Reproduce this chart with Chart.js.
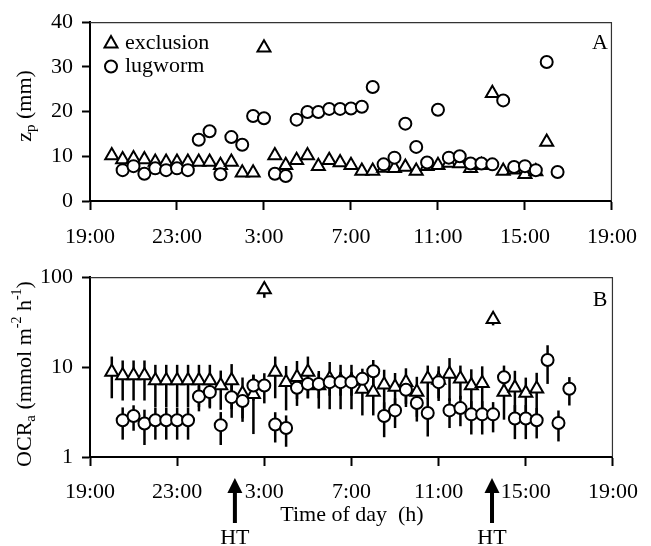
<!DOCTYPE html>
<html>
<head>
<meta charset="utf-8">
<script src="https://cdn.jsdelivr.net/npm/chart.js@4.4.1/dist/chart.umd.min.js"></script>
<style>
  html, body { margin: 0; padding: 0; background: #fff; }
  #wrap { position: relative; width: 651px; height: 546px; }
  canvas { position: absolute; left: 0; }
</style>
</head>
<body>
<div id="wrap">
  <canvas id="chartA" width="651" height="255" style="top:0"></canvas>
  <canvas id="chartB" width="651" height="291" style="top:255px"></canvas>
</div>
<script>
// hours after 19:00
const xTickHours = [0, 4, 8, 12, 16, 20, 24];
const xTickLabels = ['19:00', '23:00', '3:00', '7:00', '11:00', '15:00', '19:00'];
const zpTicks = [0, 10, 20, 30, 40];
const ocrTicks = [1, 10, 100];
const htTimes = [6.65, 18.45];

// Panel A: z_p (mm)
const zpExclTime = [1.0, 1.5, 2.0, 2.5, 3.0, 3.5, 4.0, 4.5, 5.0, 5.5, 6.0, 6.5, 7.0, 7.5, 8.0, 8.5, 9.0, 9.5, 10.0, 10.5,
  11.0, 11.5, 12.0, 12.5, 13.0, 13.5, 14.0, 14.5, 15.0, 15.5, 16.0, 16.5, 17.0, 17.5, 18.0, 18.5, 19.0, 19.5, 20.0, 20.5, 21.0];
const zpExcl = [10.2, 9.3, 9.5, 9.3, 8.7, 8.7, 8.7, 8.7, 8.7, 8.7, 8.0, 8.7, 6.3, 6.3, 34.3, 10.2, 8.0, 9.1, 10.2, 7.8,
  9.1, 8.6, 8.0, 6.7, 6.7, 7.4, 7.3, 7.6, 6.7, 7.8, 8.0, 8.5, 8.4, 7.3, 8.0, 24.1, 6.7, 7.0, 6.0, 6.6, 13.2];
const zpLugTime = [1.5, 2.0, 2.5, 3.0, 3.5, 4.0, 4.5, 5.0, 5.5, 6.0, 6.5, 7.0, 7.5, 8.0, 8.5, 9.0, 9.5, 10.0, 10.5, 11.0,
  11.5, 12.0, 12.5, 13.0, 13.5, 14.0, 14.5, 15.0, 15.5, 16.0, 16.5, 17.0, 17.5, 18.0, 18.5, 19.0, 19.5, 20.0, 20.5, 21.0, 21.5];
const zpLug = [6.9, 7.8, 6.1, 7.3, 6.9, 7.3, 6.9, 13.7, 15.6, 6.0, 14.3, 12.6, 19.0, 18.5, 6.1, 5.6, 18.2, 19.9, 19.9, 20.6,
  20.6, 20.7, 21.1, 25.5, 8.2, 9.7, 17.3, 12.1, 8.6, 20.4, 9.7, 10.0, 8.4, 8.4, 8.2, 22.5, 7.6, 7.8, 6.9, 31.1, 6.5];

// Panel B: OCR_a (mmol m-2 h-1), mean and SD
const ocrExclTime = [1.0, 1.5, 2.0, 2.5, 3.0, 3.5, 4.0, 4.5, 5.0, 5.5, 6.0, 6.5, 7.0, 7.5, 8.0, 8.5, 9.0, 9.5, 10.0, 10.5,
  11.0, 11.5, 12.0, 12.5, 13.0, 13.5, 14.0, 14.5, 15.0, 15.5, 16.0, 16.5, 17.0, 17.5, 18.0, 18.5, 19.0, 19.5, 20.0, 20.5];
const ocrExcl = [8.8, 8.05, 8.05, 8.05, 7.1, 7.1, 7.1, 7.1, 7.1, 7.1, 6.25, 7.1, 5.06, 5.0, 73, 8.8, 6.8, 7.7, 8.8, 6.25,
  7.4, 7.0, 7.0, 5.7, 5.3, 6.35, 6.0, 6.8, 5.3, 7.4, 7.2, 8.4, 7.4, 6.25, 6.6, 34.1, 5.3, 5.9, 5.14, 5.74];
const ocrExclSd = [4.3, 3.8, 3.8, 3.8, 3.5, 3.5, 3.5, 3.5, 3.5, 3.5, 2.9, 3.7, 2.6, 3.2, 14, 4.3, 3.5, 4.0, 4.3, 2.8,
  4.0, 3.6, 3.6, 2.8, 2.4, 3.0, 2.6, 2.9, 2.5, 3.0, 3.0, 4.2, 3.0, 3.2, 3.6, 5.0, 2.7, 3.2, 2.5, 2.9];
const ocrLugTime = [1.5, 2.0, 2.5, 3.0, 3.5, 4.0, 4.5, 5.0, 5.5, 6.0, 6.5, 7.0, 7.5, 8.0, 8.5, 9.0, 9.5, 10.0, 10.5, 11.0,
  11.5, 12.0, 12.5, 13.0, 13.5, 14.0, 14.5, 15.0, 15.5, 16.0, 16.5, 17.0, 17.5, 18.0, 18.5, 19.0, 19.5, 20.0, 20.5, 21.0, 21.5, 22.0];
const ocrLug = [2.56, 2.86, 2.36, 2.56, 2.56, 2.56, 2.56, 4.72, 5.27, 2.26, 4.63, 4.19, 6.25, 6.25, 2.3, 2.1, 5.9, 6.5, 6.5, 6.8,
  6.8, 6.8, 7.4, 9.0, 2.86, 3.3, 5.6, 3.98, 3.09, 6.8, 3.3, 3.5, 2.98, 2.98, 2.98, 7.7, 2.68, 2.68, 2.56, 12.0, 2.39, 5.74];
const ocrLugSd = [1.0, 0.9, 1.0, 1.0, 1.0, 1.0, 1.0, 1.5, 1.8, 0.9, 1.9, 1.5, 2.0, 2.3, 0.85, 0.8, 1.5, 2.0, 2.0, 2.0,
  2.0, 2.0, 2.2, 3.0, 1.2, 1.2, 2.0, 1.5, 1.4, 2.3, 1.2, 1.3, 1.2, 1.2, 1.1, 2.7, 1.1, 1.1, 0.95, 5.5, 0.9, 2.0];

const FONT = '"Liberation Serif", "Times New Roman", serif';
const tickFont = { family: FONT, size: 22 };

const toPoints = (xs, ys) => xs.map((x, i) => ({ x: x, y: ys[i] }));

// error bars go behind the markers
const errorBars = {
  id: 'errorBars',
  beforeDatasetsDraw(chart) {
    const ctx = chart.ctx;
    const yScale = chart.scales.y;
    ctx.save();
    ctx.strokeStyle = '#000';
    ctx.lineWidth = 2.5;
    chart.data.datasets.forEach((ds, i) => {
      if (!ds.sd) return;
      chart.getDatasetMeta(i).data.forEach((pt, j) => {
        const v = ds.data[j].y, s = ds.sd[j];
        ctx.beginPath();
        ctx.moveTo(pt.x, yScale.getPixelForValue(v + s));
        ctx.lineTo(pt.x, yScale.getPixelForValue(Math.max(v - s, 1)));
        ctx.stroke();
      });
    });
    ctx.restore();
  }
};

// draw a run of text pieces [text, size, dy] rotated -90deg around (cx, cy)
function drawRotatedTitle(ctx, cx, cy, parts) {
  ctx.save();
  ctx.translate(cx, cy);
  ctx.rotate(-Math.PI / 2);
  ctx.fillStyle = '#000';
  ctx.textAlign = 'left';
  ctx.textBaseline = 'middle';
  let total = 0;
  parts.forEach(p => { ctx.font = p[1] + 'px ' + FONT; total += ctx.measureText(p[0]).width; });
  let x = -total / 2;
  parts.forEach(p => {
    ctx.font = p[1] + 'px ' + FONT;
    ctx.fillText(p[0], x, p[2]);
    x += ctx.measureText(p[0]).width;
  });
  ctx.restore();
}

const panelDecor = {
  id: 'panelDecor',
  afterDraw(chart, args, opts) {
    const ctx = chart.ctx;
    const a = chart.chartArea;
    ctx.save();
    // thin top/right frame
    ctx.strokeStyle = '#333';
    ctx.lineWidth = 1.2;
    ctx.beginPath();
    ctx.moveTo(a.left, a.top + 0.5);
    ctx.lineTo(a.right - 0.5, a.top + 0.5);
    ctx.lineTo(a.right - 0.5, a.bottom);
    ctx.stroke();

    ctx.fillStyle = '#000';
    ctx.font = '22px ' + FONT;
    ctx.textAlign = 'center';
    ctx.textBaseline = 'middle';
    ctx.fillText(opts.letter, 600, opts.letterY);

    drawRotatedTitle(ctx, 25, opts.titleY, opts.title);

    ctx.font = '22px ' + FONT;
    ctx.textBaseline = 'middle';
    if (opts.legend) {
      ctx.lineWidth = 2;
      ctx.strokeStyle = '#000';
      ctx.fillStyle = '#fff';
      ctx.beginPath();
      ctx.moveTo(111, 36); ctx.lineTo(117.5, 47.5); ctx.lineTo(104.5, 47.5); ctx.closePath();
      ctx.fill(); ctx.stroke();
      ctx.beginPath();
      ctx.arc(111, 66.5, 6, 0, Math.PI * 2);
      ctx.fill(); ctx.stroke();
      ctx.fillStyle = '#000';
      ctx.textAlign = 'left';
      ctx.fillText('exclusion', 125, 43);
      ctx.fillText('lugworm', 125, 66);
    }

    if (opts.arrows) {
      const xs = chart.scales.x;
      ctx.fillStyle = '#000';
      ctx.textAlign = 'center';
      htTimes.forEach(t => {
        const px = xs.getPixelForValue(t);
        ctx.beginPath();
        ctx.moveTo(px, 223); ctx.lineTo(px + 7.5, 238); ctx.lineTo(px - 7.5, 238); ctx.closePath();
        ctx.fill();
        ctx.fillRect(px - 2, 236, 4, 32);
        ctx.fillText('HT', px, 283);
      });
      ctx.fillText('Time of day  (h)', 352, 260);
    }
    ctx.restore();
  }
};

function xScale(labelPad, height) {
  return {
    type: 'linear', min: 0, max: 24,
    afterBuildTicks: s => { s.ticks = xTickHours.map(v => ({ value: v })); },
    ticks: { font: tickFont, color: '#000', padding: labelPad, maxRotation: 0, autoSkip: false,
      callback: (v, i) => xTickLabels[i] },
    grid: { display: true, drawOnChartArea: false, drawTicks: true, tickLength: 9, tickWidth: 2, color: '#000' },
    border: { display: true, width: 2, color: '#000' },
    afterFit: s => { s.height = height; }
  };
}

function yGrid() {
  return { display: true, drawOnChartArea: false, drawTicks: true, tickLength: 8, tickWidth: 2, color: '#000' };
}

const markerExcl = { pointStyle: 'triangle', pointRadius: 7.5, pointBorderWidth: 2,
  pointBackgroundColor: '#fff', pointBorderColor: '#000', showLine: false };
const markerLug = { pointStyle: 'circle', pointRadius: 6, pointBorderWidth: 2,
  pointBackgroundColor: '#fff', pointBorderColor: '#000', showLine: false };

new Chart(document.getElementById('chartA'), {
  type: 'scatter',
  data: {
    datasets: [
      Object.assign({ label: 'lugworm', data: toPoints(zpLugTime, zpLug) }, markerLug),
      Object.assign({ label: 'exclusion', data: toPoints(zpExclTime, zpExcl) }, markerExcl)
    ]
  },
  options: {
    responsive: false, animation: false, events: [],
    layout: { padding: { top: 20, right: 30, left: 0, bottom: 0 } },
    plugins: {
      legend: { display: false }, tooltip: { enabled: false },
      panelDecor: { letter: 'A', letterY: 43, titleY: 106,
        title: [['z', 22, 0], ['p', 15, 6], [' (mm)', 22, 0]], legend: true }
    },
    scales: {
      x: xScale(14, 54),
      y: {
        type: 'linear', min: 0, max: 40,
        afterBuildTicks: s => { s.ticks = zpTicks.map(v => ({ value: v })); },
        ticks: { font: tickFont, color: '#000', padding: 9 },
        grid: yGrid(),
        border: { display: true, width: 2, color: '#000' },
        afterFit: s => { s.width = 90; }
      }
    }
  },
  plugins: [panelDecor]
});

new Chart(document.getElementById('chartB'), {
  type: 'scatter',
  data: {
    datasets: [
      Object.assign({ label: 'lugworm', data: toPoints(ocrLugTime, ocrLug), sd: ocrLugSd }, markerLug),
      Object.assign({ label: 'exclusion', data: toPoints(ocrExclTime, ocrExcl), sd: ocrExclSd }, markerExcl)
    ]
  },
  options: {
    responsive: false, animation: false, events: [],
    layout: { padding: { top: 21, right: 30, left: 0, bottom: 0 } },
    plugins: {
      legend: { display: false }, tooltip: { enabled: false },
      panelDecor: { letter: 'B', letterY: 45, titleY: 119,
        title: [['OCR', 22, 0], ['a', 15, 6], [' (mmol m', 22, 0], ['-2', 14, -8], [' h', 22, 0], ['-1', 14, -8], [')', 22, 0]],
        arrows: true }
    },
    scales: {
      x: xScale(13, 89),
      y: {
        type: 'logarithmic', min: 1, max: 100,
        afterBuildTicks: s => { s.ticks = ocrTicks.map(v => ({ value: v })); },
        ticks: { font: tickFont, color: '#000', padding: 9, callback: v => String(v) },
        grid: yGrid(),
        border: { display: true, width: 2, color: '#000' },
        afterFit: s => { s.width = 90; }
      }
    }
  },
  plugins: [errorBars, panelDecor]
});
</script>
</body>
</html>
